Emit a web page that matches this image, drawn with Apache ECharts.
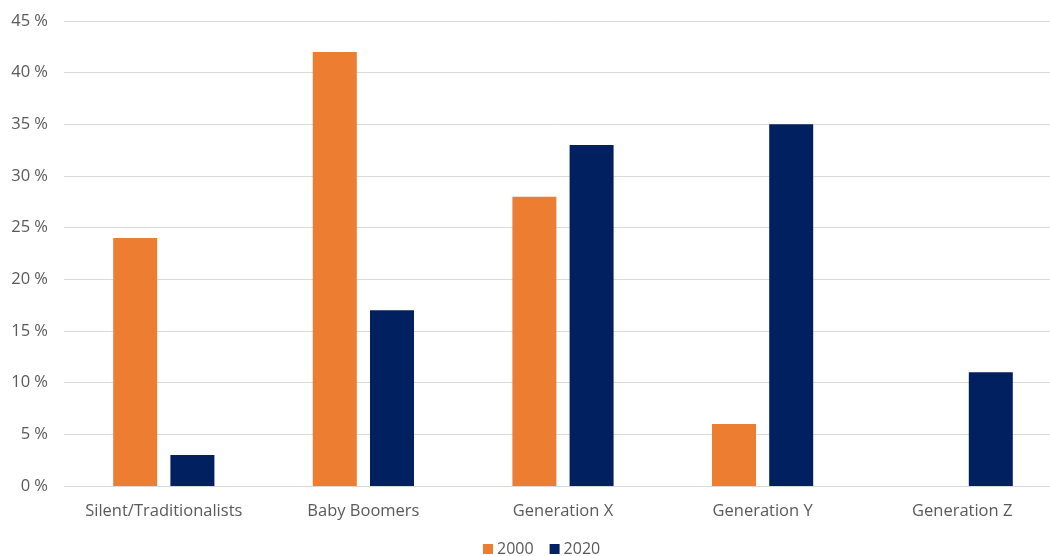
<!DOCTYPE html>
<html>
<head>
<meta charset="utf-8">
<script src="https://cdn.jsdelivr.net/npm/echarts@6/dist/echarts.min.js"></script>
<style>html,body{margin:0;padding:0;background:#fff;}#c{width:1050px;height:556px;}</style>
</head>
<body>
<div id="c"></div>
<script>
const categories = ['Silent/Traditionalists', 'Baby Boomers', 'Generation X', 'Generation Y', 'Generation Z'];
const values2000 = [24, 42, 28, 6, null];
const values2020 = [3, 17, 33, 35, 11];
const seriesNames = ['2000', '2020'];

const chart = echarts.init(document.getElementById('c'), null, {renderer: 'canvas'});
const font = '"Open Sans", "DejaVu Sans", sans-serif';
chart.setOption({
  animation: false,
  backgroundColor: '#ffffff',
  color: ['#ED7D31', '#002060'],
  grid: {left: 64, top: 21, right: -12, bottom: 70, containLabel: false, outerBoundsMode: 'none'},
  legend: {
    top: 536,
    left: 478,
    itemWidth: 10,
    itemHeight: 10,
    itemGap: 16,
    icon: 'rect',
    textStyle: {color: '#595959', fontSize: 16, fontFamily: font, padding: [0,0,0,-1]},
    data: seriesNames
  },
  xAxis: {
    type: 'category',
    data: categories,
    axisLine: {show: false},
    axisTick: {show: false},
    axisLabel: {color: '#595959', fontSize: 16.5, fontFamily: font, margin: 17, interval: 0}
  },
  yAxis: {
    type: 'value',
    min: 0,
    max: 45,
    interval: 5,
    axisLine: {show: false},
    axisTick: {show: false},
    splitLine: {lineStyle: {color: '#D9D9D9', width: 1}},
    axisLabel: {color: '#595959', fontSize: 16.5, fontFamily: font, margin: 16, formatter: v => v + ' %'}
  },
  series: [
    {name: seriesNames[0], type: 'bar', data: values2000, barWidth: 44, barGap: '30%'},
    {name: seriesNames[1], type: 'bar', data: values2020, barWidth: 44, barGap: '30%'}
  ]
});
</script>
</body>
</html>
